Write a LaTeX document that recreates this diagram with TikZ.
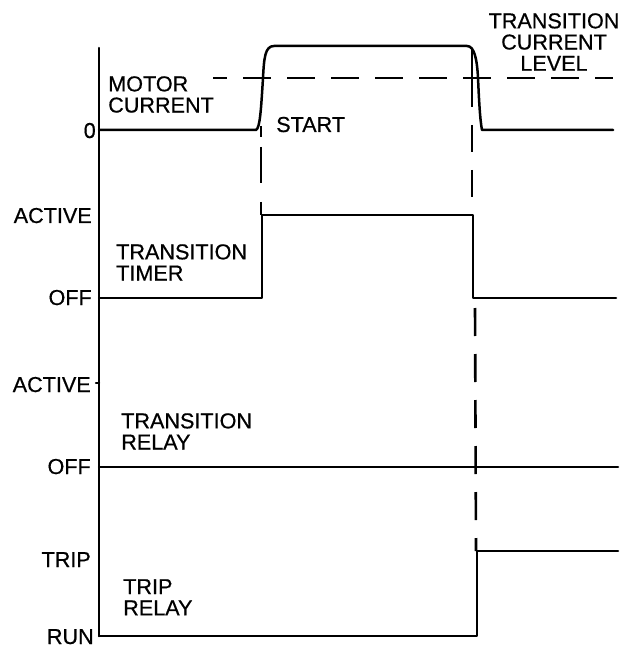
\documentclass[tikz,border=0pt]{standalone}
\usepackage{fontspec}
\setmainfont{Liberation Sans}
\newfontfamily\chartfont{Liberation Sans}[FakeBold=0.6]
\usetikzlibrary{calc}

\begin{document}
\begin{tikzpicture}[x=0.5pt,y=-0.5pt,line join=round,line cap=round,line width=1.25pt,
  lbl/.style={inner sep=0pt,font=\chartfont\fontsize{10.8}{10.6}\selectfont},
  guide/.style={line width=1.3pt,line cap=butt}]
  \useasboundingbox (0,0) rectangle (633,646);

  % levels on the time axis
  \coordinate (Top) at (99,48);
  \coordinate (Bot) at (99,636);
  \coordinate (Mlo) at (99,130);
  \coordinate (Tlo) at (99,298);
  \coordinate (Rlo) at (99,467);
  \coordinate (Xlo) at (99,636);

  \draw (Top)--(Bot);
  \draw (96,383)--(Rlo |- 0,383);

  % motor current
  \draw (Mlo)--(256,130) .. controls (260,128) and (261,110) .. (263,78)
        .. controls (264,58) and (265,46) .. (274,46) -- (467,46)
        .. controls (474,46) and (477,58) .. (478,78)
        .. controls (479,100) and (480,120) .. (482,130) -- (613,130);
  \draw[guide,dash pattern=on 14pt off 8pt,dash phase=7pt] (213,78)--(613,78);

  % transition timer
  \draw (Tlo)--(262,298)--(262,215)--(473,215)--(473,298)--(616,298);

  % transition relay
  \draw (Rlo)--(618,467);

  % trip relay
  \draw (Xlo)--(477,636)--(477,551)--(618,551);

  % time markers
  \draw[guide,dash pattern=on 5.5pt off 5pt on 18pt off 9.5pt on 10pt] (261,126)--(261,215);
  \draw[guide,dash pattern=on 28.5pt off 9pt on 13.5pt off 9pt on 13.5pt off 9pt] (472,50)--(472,215);
  \draw[guide,dash pattern=on 14pt off 9pt] (475,308)--(476,551);

  % labels
  \node[lbl,anchor=base east] (zero) at (97,138) {0};
  \node[lbl,anchor=north west,align=left] (motor) at (107,75) {MOTOR\\CURRENT};
  \node[lbl,anchor=base west] (start) at (275,132) {START};
  \node[lbl,anchor=north,align=center] (level) at (554,12) {TRANSITION\\CURRENT\\LEVEL};

  \node[lbl,anchor=base east] (tact) at (93,223) {ACTIVE};
  \node[lbl,anchor=base east] (toff) at (93,305) {OFF};
  \node[lbl,anchor=north west,align=left] (timer) at (115,243) {TRANSITION\\TIMER};

  \node[lbl,anchor=base east] (ract) at (92,392) {ACTIVE};
  \node[lbl,anchor=base east] (roff) at (92,474) {OFF};
  \node[lbl,anchor=north west,align=left] (relay) at (120,412) {TRANSITION\\RELAY};

  \node[lbl,anchor=base east] (trip) at (92,567) {TRIP};
  \node[lbl,anchor=base east] (run) at (95,644) {RUN};
  \node[lbl,anchor=north west,align=left] (triprl) at (122,578) {TRIP\\RELAY};
\end{tikzpicture}
\end{document}
